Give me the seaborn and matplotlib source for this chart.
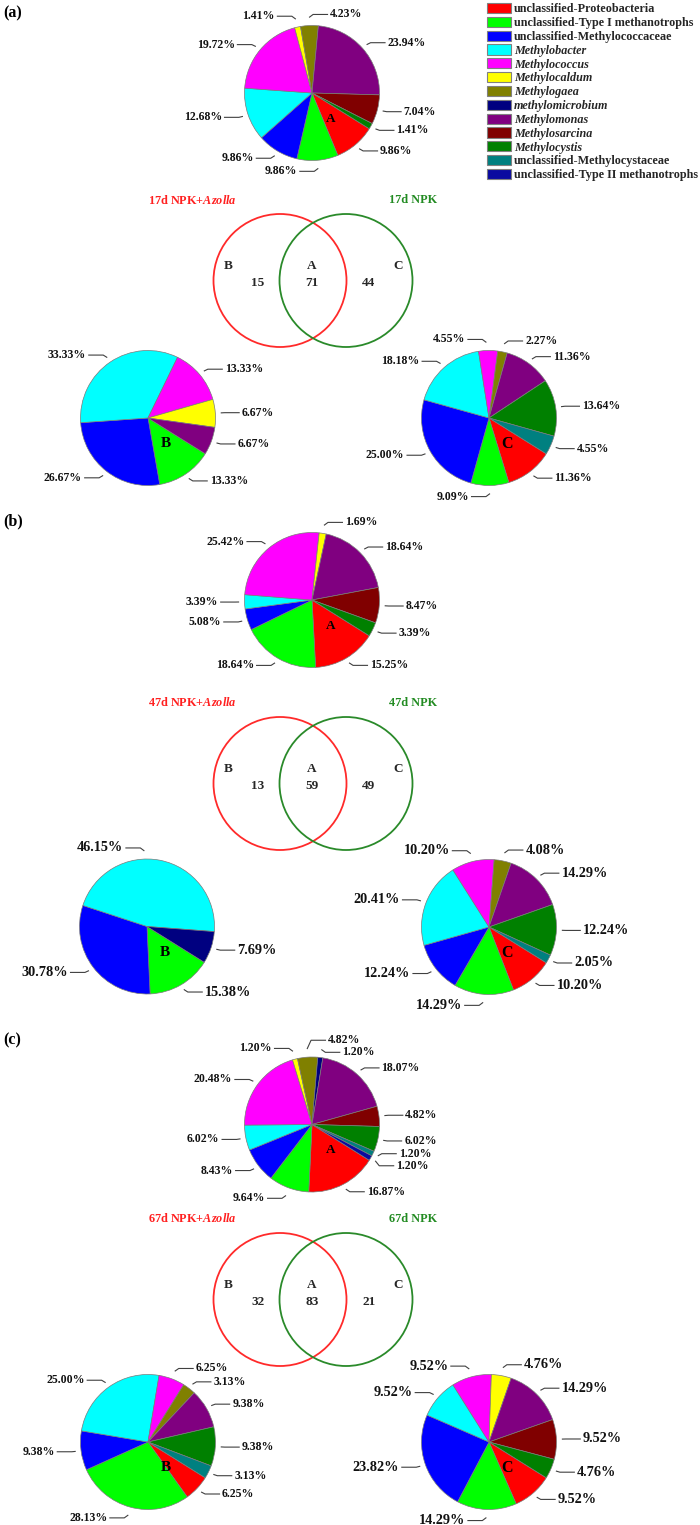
import numpy as np
import matplotlib
matplotlib.use("Agg")
import matplotlib.pyplot as plt
import seaborn as sns
from matplotlib.patches import Circle, Patch

# ---------------- data ----------------
categories = ["unclassified-Proteobacteria", "unclassified-Type I methanotrophs",
              "unclassified-Methylococcaceae", "Methylobacter", "Methylococcus",
              "Methylocaldum", "Methylogaea", "methylomicrobium", "Methylomonas",
              "Methylosarcina", "Methylocystis", "unclassified-Methylocystaceae",
              "unclassified-Type II methanotrophs"]
italic_names = [False, False, False, True, True, True, True, True, True, True, True, False, False]
colors = ["#FF0000", "#00FF00", "#0000FF", "#00FFFF", "#FF00FF", "#FFFF00", "#808000",
          "#000080", "#800080", "#800000", "#008000", "#008080", "#0A0AA0"]

# percentages in category order (0 = absent)
a_A = [9.86, 9.86, 9.86, 12.68, 19.72, 1.41, 4.23, 0, 23.94, 7.04, 1.41, 0, 0]
a_B = [0, 13.33, 26.67, 33.33, 13.33, 6.67, 0, 0, 6.67, 0, 0, 0, 0]
a_C = [11.36, 9.09, 25.00, 18.18, 4.55, 0, 2.27, 0, 11.36, 0, 13.64, 4.55, 0]
b_A = [15.25, 18.64, 5.08, 3.39, 25.42, 1.69, 0, 0, 18.64, 8.47, 3.39, 0, 0]
b_B = [0, 15.38, 30.78, 46.15, 0, 0, 0, 7.69, 0, 0, 0, 0, 0]
b_C = [10.20, 14.29, 12.24, 20.41, 10.20, 0, 4.08, 0, 14.29, 0, 12.24, 2.05, 0]
c_A = [16.87, 9.64, 8.43, 6.02, 20.48, 1.20, 4.82, 1.20, 18.07, 4.82, 6.02, 1.20, 1.20]
c_B = [6.25, 28.13, 9.38, 25.00, 6.25, 0, 3.13, 0, 9.38, 0, 9.38, 3.13, 0]
c_C = [9.52, 14.29, 23.82, 9.52, 9.52, 4.76, 0, 0, 14.29, 9.52, 4.76, 0, 0]

days = ["17d", "47d", "67d"]
venn_only_azolla = [15, 13, 32]
venn_shared = [71, 59, 83]
venn_only_npk = [44, 49, 21]
panel_tags = ["(a)", "(b)", "(c)"]

# ---------------- style ----------------
sns.set_theme(style="white")
plt.rcParams["font.family"] = ["Liberation Serif", "DejaVu Serif"]
plt.rcParams["font.weight"] = "bold"
plt.rcParams["mathtext.fontset"] = "custom"
plt.rcParams["mathtext.rm"] = "Liberation Serif:bold"
plt.rcParams["mathtext.it"] = "Liberation Serif:italic:bold"
plt.rcParams["mathtext.bf"] = "Liberation Serif:bold"

W, H = 700, 1525
R = 67.5
START = -32
fig = plt.figure(figsize=(W / 100, H / 100), dpi=100)
fig.patch.set_facecolor("white")

bg = fig.add_axes([0, 0, 1, 1])
bg.set_xlim(0, W)
bg.set_ylim(H, 0)
bg.axis("off")

# layout (pixel positions, y downward)
layout = [
    dict(tag_y=13, A=(312, 93), title_y=200, venn_y=280.5, B=(148, 418), C=(489, 418),
         fsB=8.5, fsC=8.5),
    dict(tag_y=521, A=(312, 600), title_y=703, venn_y=783.5, B=(147, 926.5), C=(489, 927),
         fsB=10.3, fsC=10.3),
    dict(tag_y=1040, A=(312, 1124.5), title_y=1219, venn_y=1299.5, B=(148, 1442), C=(489, 1442),
         fsB=8.5, fsC=10.3),
]
# label anchor overrides (angle in degrees, side) where the original label sits off the slice middle
anchor_overrides = {(0, "C", "Methylococcus"): (92, -1), (1, "B", "Methylobacter"): (92, -1)}


def draw_pie(panel, key, cx, cy, vals, fs, letter, letter_fs):
    ax = fig.add_axes([(cx - R) / W, 1 - (cy + R) / H, 2 * R / W, 2 * R / H])
    idx = [i for i, v in enumerate(vals) if v > 0]
    v = [vals[i] for i in idx]
    wedges, _ = ax.pie(v, colors=[colors[i] for i in idx], startangle=START,
                       counterclock=False, radius=R,
                       wedgeprops=dict(edgecolor="#7a7a7a", linewidth=0.5))
    ax.set_xlim(-R, R)
    ax.set_ylim(-R, R)
    ax.set_aspect("equal")
    ax.axis("off")
    ax.text(0.27 * R, -0.38 * R, letter, fontsize=letter_fs, fontweight="bold",
            ha="center", va="center", color="black")
    items = {1: [], -1: []}
    for w, i, val in zip(wedges, idx, v):
        mid = (w.theta1 + w.theta2) / 2.0
        cw = (90 - mid + 180) % 360 - 180
        side = 1 if (-5 < cw < 175) else -1
        ov = anchor_overrides.get((panel, key, categories[i]))
        if ov is not None:
            mid, side = ov
        th = np.deg2rad(mid)
        rr = 1.08 if abs(np.sin(th)) < 0.9 else 1.12
        p0 = np.array([rr * R * np.cos(th), rr * R * np.sin(th)])
        y = p0[1] + 3 * np.sin(th)
        items[side].append([y, p0, val])
    gap = fs * 1.389 * 1.02
    for side, lst in items.items():
        lst.sort(key=lambda t: -t[0])
        for _ in range(200):
            moved = False
            for k in range(1, len(lst)):
                d = lst[k - 1][0] - lst[k][0]
                if d < gap:
                    s = (gap - d) / 2 + 0.01
                    lst[k - 1][0] += s
                    lst[k][0] -= s
                    moved = True
            if not moved:
                break
        for y, p0, val in lst:
            p1x = p0[0] + side * 4
            p2x = p1x + side * 15
            ax.plot([p0[0], p1x, p2x], [p0[1], y, y], color="#404040", lw=0.8,
                    clip_on=False, solid_capstyle="butt")
            ax.text(p2x + side * 2, y, f"{val:.2f}%", fontsize=fs, fontweight="bold",
                    ha="left" if side > 0 else "right", va="center", color="#111111")


pies = [(a_A, a_B, a_C), (b_A, b_B, b_C), (c_A, c_B, c_C)]
for p, L in enumerate(layout):
    pa, pb, pc = pies[p]
    bg.text(3, L["tag_y"], panel_tags[p], fontsize=11.5, fontweight="bold",
            ha="left", va="center", color="black")
    draw_pie(p, "A", L["A"][0], L["A"][1], pa, 8.5, "A", 9.5)
    draw_pie(p, "B", L["B"][0], L["B"][1], pb, L["fsB"], "B", 11)
    draw_pie(p, "C", L["C"][0], L["C"][1], pc, L["fsC"], "C", 11.5)
    vy = L["venn_y"]
    bg.add_patch(Circle((280, vy), 66.5, fill=False, edgecolor="#ff2a2a", lw=1.3))
    bg.add_patch(Circle((346, vy), 66.5, fill=False, edgecolor="#2a8a2a", lw=1.3))
    bg.text(192, L["title_y"], days[p] + r" NPK+$\mathit{Azolla}$", fontsize=8.8,
            color="#ff2020", ha="center", va="center", fontweight="bold")
    bg.text(413, L["title_y"], days[p] + " NPK", fontsize=8.8, color="#228B22",
            ha="center", va="center", fontweight="bold")
    for x, t in [(228, "B"), (312, "A"), (398, "C")]:
        bg.text(x, vy - 14.5, t, fontsize=9.5, ha="center", va="center", fontweight="bold")
    for x, n in [(258, venn_only_azolla[p]), (312, venn_shared[p]), (369, venn_only_npk[p])]:
        bg.text(x, vy + 2.5, str(n), fontsize=9.5, ha="center", va="center", fontweight="bold")

handles = [Patch(facecolor=c, edgecolor="#808080", linewidth=0.8) for c in colors]
leg = fig.legend(handles, categories, loc="upper left", bbox_to_anchor=(487 / W, 1 - 3 / H),
                 frameon=False, fontsize=8.7, handlelength=1.95, handleheight=0.92,
                 labelspacing=0.13, handletextpad=0.3, borderaxespad=0, borderpad=0)
for t, it in zip(leg.get_texts(), italic_names):
    t.set_fontweight("bold")
    if it:
        t.set_fontstyle("italic")

fig.savefig("out.png", dpi=100, facecolor="white")
